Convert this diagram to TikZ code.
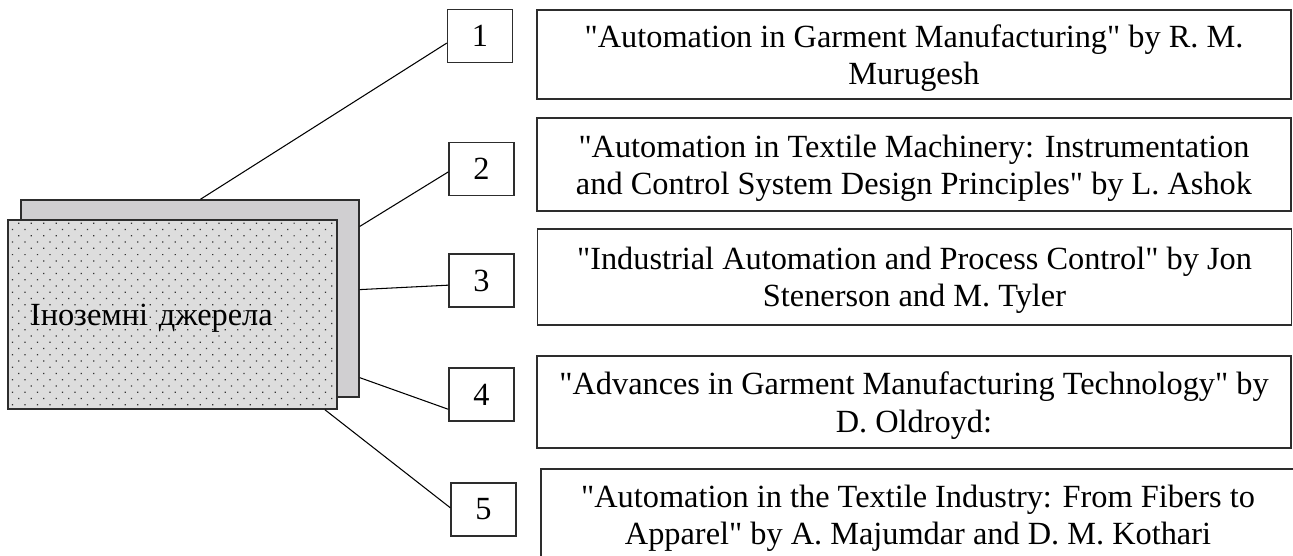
\documentclass[tikz,border=0pt]{standalone}
\usepackage{fontspec}
\newfontfamily\bookfont{Liberation Serif}
\usetikzlibrary{patterns.meta}
\definecolor{backgray}{RGB}{208,207,209}
\definecolor{frontgray}{RGB}{221,221,221}
\definecolor{edge}{RGB}{45,45,45}

\begin{document}
\begin{tikzpicture}[
    every node/.style={font=\bookfont\fontsize{18.4}{21.3}\selectfont},
    sheet/.style={draw=edge, line width=0.8pt},
    numbox/.style={sheet, fill=white, minimum width=1.3cm, minimum height=1.06cm,
      inner sep=0pt},
    bookbox/.style={sheet, minimum width=15.08cm, align=center, inner sep=0pt,
      text depth=0pt},
    link/.style={line width=0.6pt}]
  \useasboundingbox (0,0) rectangle (25.86,11.1);
  % two stacked sheets, the front one dotted
  \node[sheet, fill=backgray, minimum width=6.76cm, minimum height=3.94cm] (back) at (3.8,5.13) {};
  \node[sheet, preaction={fill=frontgray},
    pattern={Dots[angle=45, distance=0.177cm, radius=0.5pt]}, pattern color=black!80,
    minimum height=3.78cm, text width=5.7cm, inner xsep=0.44cm, align=left,
    text depth=0pt] (front) at (3.45,4.81) {Іноземні джерела};
  % numbered boxes and the books
  \foreach \i/\nx/\ny/\bx/\by/\bh/\txt in {
      1/9.60/10.38/18.28/10.01/1.78/{"Automation in Garment Manufacturing" by R. M.\\Murugesh},
      2/9.63/7.72/18.28/7.81/1.86/{"Automation in Textile Machinery: Instrumentation\\and Control System Design Principles" by L. Ashok},
      3/9.63/5.49/18.29/5.56/1.92/{"Industrial Automation and Process Control" by Jon\\Stenerson and M. Tyler},
      4/9.63/3.21/18.28/3.06/1.84/{"Advances in Garment Manufacturing Technology" by\\D. Oldroyd:},
      5/9.67/0.91/18.36/0.80/1.84/{"Automation in the Textile Industry: From Fibers to\\Apparel" by A. Majumdar and D. M. Kothari}} {
    \node[numbox] (num\i) at (\nx,\ny) {\i};
    \node[bookbox, minimum height=\bh cm] (book\i) at (\bx,\by) {\txt};
  }
  \draw[link] (back.84) -- (num1.192);
  \draw[link] (back.23) -- (num2.185);
  \draw[link] (back.3) -- (num3.188);
  \draw[link] (back.-25) -- (num4.204);
  \draw[link] (front.-32) -- (num5.177);
\end{tikzpicture}
\end{document}
